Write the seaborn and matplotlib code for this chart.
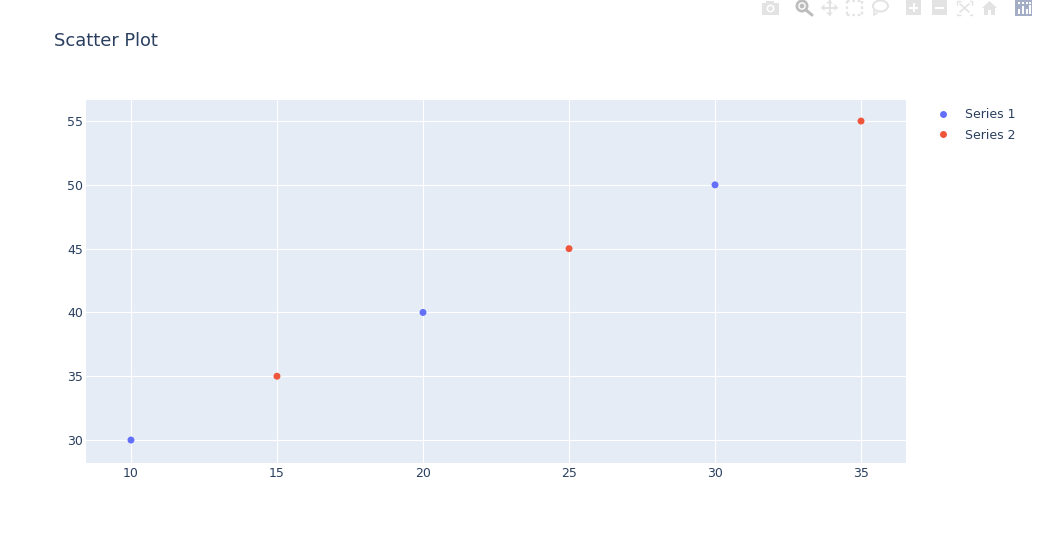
import pandas as pd
import matplotlib.pyplot as plt
import matplotlib.patches as mp
import seaborn as sns

x1 = [10, 20, 30]
y1 = [30, 40, 50]
x2 = [15, 25, 35]
y2 = [35, 45, 55]
xticks = [10, 15, 20, 25, 30, 35]
yticks = [30, 35, 40, 45, 50, 55]

W, H = 1038, 542
INK = '#2a3f5f'

sns.set_theme(style='darkgrid', rc={
    'axes.facecolor': '#e5ecf6',
    'grid.color': 'white',
    'grid.linewidth': 0.8,
    'axes.edgecolor': 'none',
})
plt.rcParams['font.family'] = ['DejaVu Sans']

df = pd.DataFrame({
    'x': x1 + x2,
    'y': y1 + y2,
    'series': ['Series 1'] * len(x1) + ['Series 2'] * len(x2),
})

fig = plt.figure(figsize=(W / 100, H / 100), dpi=100)
ax = fig.add_axes([86 / W, 1 - 463 / H, 820 / W, 363 / H])

sns.scatterplot(data=df, x='x', y='y', hue='series',
                hue_order=['Series 1', 'Series 2'],
                palette=['#636efa', '#ef553b'],
                s=25, linewidth=0, ax=ax, zorder=3, clip_on=False)

ax.set_xlim(8.46, 36.54)
ax.set_ylim(28.2, 56.65)
ax.set_xticks(xticks)
ax.set_yticks(yticks)
ax.set_xlabel('')
ax.set_ylabel('')
ax.tick_params(axis='both', length=0, labelsize=9, labelcolor=INK)
ax.tick_params(axis='x', pad=3)
ax.tick_params(axis='y', pad=2)

fig.text(54 / W, 1 - 41 / H, 'Scatter Plot', fontsize=12.85, color=INK,
         ha='left', va='center')

leg = ax.legend(loc='upper left', bbox_to_anchor=(930 / W, 1 - 108 / H),
                bbox_transform=fig.transFigure, frameon=False, fontsize=9,
                labelcolor=INK, handletextpad=0.8, labelspacing=0.62,
                borderaxespad=0, borderpad=0)


# modebar icons, drawn in pixel positions of the page
def px(*pts):
    return [(a / W, 1 - b / H) for a, b in pts]


def poly(pts, c):
    fig.add_artist(mp.Polygon(px(*pts), closed=True, fc=c, ec='none',
                              transform=fig.transFigure))


def rect(x0, y0, x1_, y1_, c):
    poly([(x0, y0), (x1_, y0), (x1_, y1_), (x0, y1_)], c)


def line(pts, c, lw=1.2, ls='-'):
    xs, ys = zip(*px(*pts))
    fig.add_artist(plt.Line2D(xs, ys, color=c, lw=lw, ls=ls,
                              transform=fig.transFigure))


def dot(cx, cy, r, c):
    fig.add_artist(mp.Ellipse((cx / W, 1 - cy / H), 2 * r / W, 2 * r / H,
                              fc=c, ec='none', transform=fig.transFigure))


LIGHT = '#e3e3e3'
# camera
rect(762, 3, 779, 15, LIGHT)
rect(766, 1, 774, 3, LIGHT)
dot(770.5, 8.5, 4, 'white')
dot(770.5, 8.5, 2.4, LIGHT)
# zoom (active)
dot(802, 6, 6.5, '#bdbdbd')
dot(802, 6, 3.8, 'white')
dot(802, 6, 2.4, '#bdbdbd')
line([(806, 10), (812, 15)], '#bdbdbd', lw=2.2)
# pan
line([(822, 7.5), (837, 7.5)], LIGHT, lw=1.4)
line([(829.5, 0), (829.5, 15)], LIGHT, lw=1.4)
poly([(821, 7.5), (824.5, 4), (824.5, 11)], LIGHT)
poly([(838, 7.5), (834.5, 4), (834.5, 11)], LIGHT)
poly([(829.5, 0), (826, 3.5), (833, 3.5)], LIGHT)
poly([(829.5, 16), (826, 12.5), (833, 12.5)], LIGHT)
# box select
for a, b, c_, d in [(847, 1, 862, 1), (847, 15, 862, 15),
                    (847, 1, 847, 15), (862, 1, 862, 15)]:
    line([(a, b), (c_, d)], LIGHT, lw=1.6, ls=(0, (1.2, 1.2)))
# lasso
fig.add_artist(mp.Ellipse((880.5 / W, 1 - 6 / H), 15 / W, 11 / H, fc='none',
                          ec=LIGHT, lw=1.4, transform=fig.transFigure))
line([(874, 10), (874, 15), (877, 13)], LIGHT, lw=1.2)
# zoom in, zoom out
rect(906, 0, 921, 15, LIGHT)
rect(909, 6.5, 918, 8.5, 'white')
rect(912.5, 3, 914.5, 12, 'white')
rect(932, 0, 947, 15, LIGHT)
rect(935, 6.5, 944, 8.5, 'white')
# autoscale
for a, b, c_, d in [(957, 1, 972, 1), (957, 15, 972, 15),
                    (957, 1, 957, 15), (972, 1, 972, 15)]:
    line([(a, b), (c_, d)], LIGHT, lw=1, ls=(0, (3, 6)))
line([(960, 4), (969, 12)], LIGHT, lw=1.2)
line([(969, 4), (960, 12)], LIGHT, lw=1.2)
# home
poly([(982, 8), (989.5, 1), (997, 8), (995, 8), (995, 15), (991, 15), (991, 10),
      (988, 10), (988, 15), (984, 15), (984, 8)], LIGHT)
# plotly logo
rect(1015, 0, 1032, 16, '#a3aec6')
for a, h in [(1018, 9), (1022, 6), (1026, 9), (1029, 5)]:
    rect(a, h, a + 1.6, 14, 'white')
for a in [1018, 1022, 1026, 1029]:
    rect(a, 2, a + 1.6, 3.5, 'white')

fig.savefig('out.png', dpi=100, facecolor='white')
